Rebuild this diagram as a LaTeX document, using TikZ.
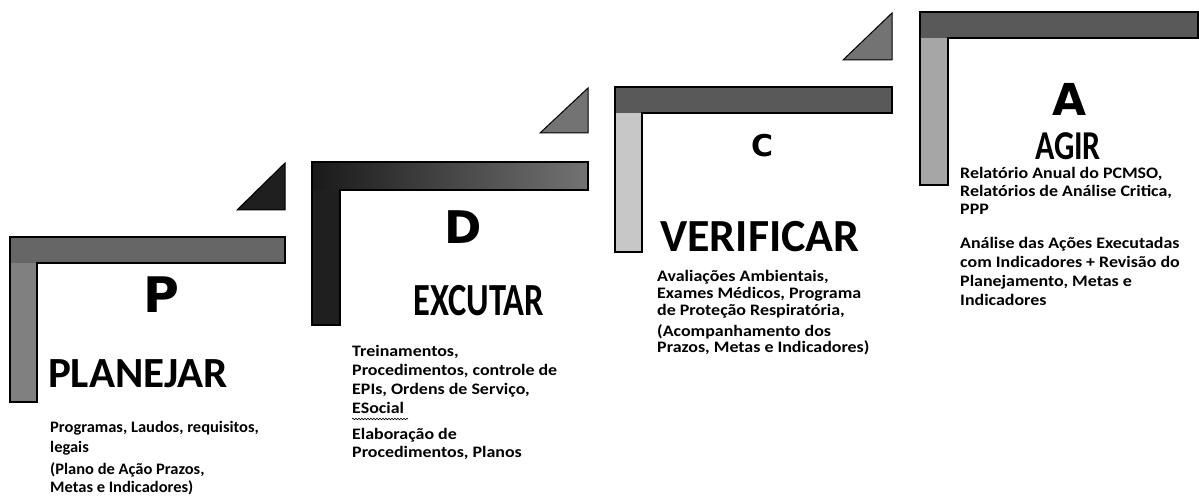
\documentclass[tikz,border=0pt]{standalone}
\usepackage{fontspec}
\setmainfont{Carlito}
\newfontfamily\heavyfont{DejaVu Sans}
\usetikzlibrary{decorations.pathmorphing}
\begin{document}
\begin{tikzpicture}[x=1pt,y=-1pt,
  outline/.style={draw=black, line width=1.2pt},
  tri/.style={draw=black, line width=1pt},
  letter/.style={font=\heavyfont\bfseries\fontsize{#1}{#1}\selectfont, inner sep=0},
  title/.style={font=\bfseries\fontsize{#1}{#1}\selectfont, inner sep=0},
  body/.style={font=\bfseries\fontsize{16}{#1}\selectfont, align=left, anchor=base west, inner sep=0, xscale=1.12}]
\useasboundingbox[fill=white] (0,0) rectangle (1199,502);

% ---- P step ----
\fill[black!60] (10,237) rectangle (285,263);
\fill[black!50] (10,263) rectangle (37,402);
\draw[outline] (10,237) -- (285,237) -- (285,263) -- (37,263) -- (37,402) -- (10,402) -- cycle;
\filldraw[tri, fill=black!88] (237,210) -- (285,163) -- (285,210) -- cycle;

% ---- D step ----
\shade[left color=black!90, right color=black!55] (312,162) rectangle (588,190);
\fill[black!88] (312,190) rectangle (340,325);
\draw[outline] (312,162) -- (588,162) -- (588,190) -- (340,190) -- (340,325) -- (312,325) -- cycle;
\filldraw[tri, fill=black!55] (540,133) -- (588,88) -- (588,133) -- cycle;

% ---- C step ----
\fill[black!65] (615,87) rectangle (892,113);
\fill[black!22] (615,113) rectangle (642,252);
\draw[outline] (615,87) -- (892,87) -- (892,113) -- (642,113) -- (642,252) -- (615,252) -- cycle;
\filldraw[tri, fill=black!55] (843,60) -- (892,13) -- (892,60) -- cycle;

% ---- A step ----
\fill[black!65] (920,12) rectangle (1198,38);
\fill[black!35] (920,38) rectangle (948,185);
\draw[outline] (920,12) -- (1198,12) -- (1198,38) -- (948,38) -- (948,185) -- (920,185) -- cycle;

% ---- letters and titles ----
\node[letter=49] (pl) at (161,295) {P};
\node[title=43] (pt) at (138,374) {PLANEJAR};
\node[letter=45] (dl) at (463,227) {D};
\node[title=46, xscale=0.75] (dt) at (479,301) {EXCUTAR};
\node[letter=30] (cl) at (762,146) {C};
\node[title=46] (ct) at (760,237) {VERIFICAR};
\node[letter=44] (al) at (1070,99) {A};
\node[title=41, xscale=0.78] (at) at (1068,146) {AGIR};

% ---- body texts (anchor = baseline of last line) ----
\node[body=20, xscale=0.92] (p1) at (50,452) {Programas, Laudos, requisitos,\\legais};
\node[body=18, xscale=0.92] (p2) at (50,492) {(Plano de Ação Prazos,\\Metas e Indicadores)};
\node[body=19] (d1) at (352,413) {Treinamentos,\\Procedimentos, controle de\\EPIs, Ordens de Serviço,\\ESocial};
\node[body=18] (d2) at (352,457) {Elaboração de\\Procedimentos, Planos};
\node[body=17] (c1) at (657,316) {Avaliações Ambientais,\\Exames Médicos, Programa\\de Proteção Respiratória,};
\node[body=17] (c2) at (657,353) {(Acompanhamento dos\\Prazos, Metas e Indicadores)};
\node[body=18] (a1) at (960,215) {Relatório Anual do PCMSO,\\Relatórios de Análise Critica,\\PPP};
\node[body=19] (a2) at (960,306) {Análise das Ações Executadas\\com Indicadores + Revisão do\\Planejamento, Metas e\\Indicadores};

\coordinate (sq1) at (352,419);
\coordinate (sq2) at (408,419);
\draw[line width=0.6pt, decorate, decoration={snake, amplitude=0.8pt, segment length=3pt}] (sq1) -- (sq2);
\end{tikzpicture}
\end{document}
